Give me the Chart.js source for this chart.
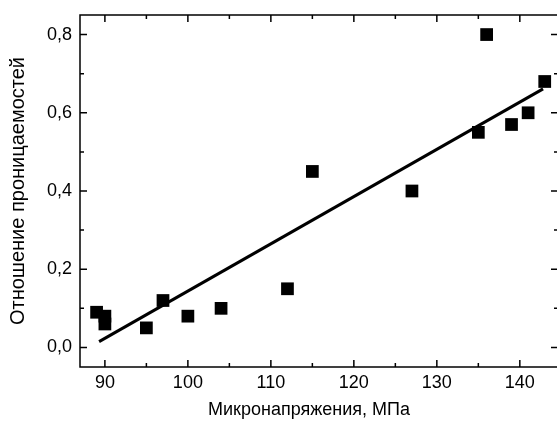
<!DOCTYPE html>
<html>
<head>
<meta charset="utf-8">
<script src="https://cdn.jsdelivr.net/npm/chart.js@4/dist/chart.umd.min.js"></script>
<style>
	body { margin: 0; overflow: hidden; background: #fff; }
	#wrap { position: absolute; left: 0; top: 0; width: 560px; height: 421px; }
</style>
</head>
<body>
<div id="wrap"><canvas id="myChart" width="560" height="421"></canvas></div>
<script>
// measured points
var stressX = [89, 90, 90, 95, 97, 100, 104, 112, 115, 127, 135, 136, 139, 141, 143];
var ratioY = [0.09, 0.08, 0.06, 0.05, 0.12, 0.08, 0.10, 0.15, 0.45, 0.40, 0.55, 0.80, 0.57, 0.60, 0.68];

// fitted line, end points
var fitX = [89.3, 142.8];
var fitY = [0.015, 0.661];

// axis ticks
var xMajorTicks = [90, 100, 110, 120, 130, 140];
var xMinorTicks = [95, 105, 115, 125, 135];
var yMajorTicks = [0, 0.2, 0.4, 0.6, 0.8];
var yMinorTicks = [0.1, 0.3, 0.5, 0.7];

// trailing spaces nudge the centred title a little to the left, like the original
var xTitle = 'Микронапряжения, МПа\u00a0\u00a0\u00a0\u00a0';
var yTitle = 'Отношение проницаемостей';

function toPoints(xs, ys) {
	return xs.map(function(v, i) { return { x: v, y: ys[i] }; });
}

// box around the plot with inward ticks on all four sides
var frameTicks = {
	id: 'frameTicks',
	afterDraw: function(chart) {
		var ctx = chart.ctx;
		var a = chart.chartArea;
		var xs = chart.scales.x;
		var ys = chart.scales.y;
		ctx.save();
		ctx.strokeStyle = '#000';
		ctx.lineWidth = 1.5;
		ctx.strokeRect(a.left, a.top, a.right - a.left, a.bottom - a.top);
		ctx.beginPath();
		function xMarks(vals, len) {
			vals.forEach(function(v) {
				var px = xs.getPixelForValue(v);
				ctx.moveTo(px, a.bottom); ctx.lineTo(px, a.bottom - len);
				ctx.moveTo(px, a.top); ctx.lineTo(px, a.top + len);
			});
		}
		function yMarks(vals, len) {
			vals.forEach(function(v) {
				var py = ys.getPixelForValue(v);
				ctx.moveTo(a.left, py); ctx.lineTo(a.left + len, py);
				ctx.moveTo(a.right, py); ctx.lineTo(a.right - len, py);
			});
		}
		xMarks(xMajorTicks, 7);
		xMarks(xMinorTicks, 4);
		yMarks(yMajorTicks, 7);
		yMarks(yMinorTicks, 4);
		ctx.stroke();
		ctx.restore();
	}
};

var font = { family: '"Liberation Sans", Arial, sans-serif', size: 18 };
var yTitleFont = { family: '"Liberation Sans", Arial, sans-serif', size: 20 };

var ctx = document.getElementById('myChart');
var myChart = new Chart(ctx, {
	type: 'scatter',
	data: {
		datasets: [
			{
				type: 'line',
				data: toPoints(fitX, fitY),
				borderColor: '#000',
				borderWidth: 3,
				pointRadius: 0,
				fill: false
			},
			{
				data: toPoints(stressX, ratioY),
				pointStyle: 'rect',
				pointRadius: 9,
				pointHoverRadius: 9,
				backgroundColor: '#000',
				borderWidth: 0
			}
		]
	},
	options: {
		responsive: false,
		animation: false,
		layout: { autoPadding: false, padding: { top: 15, right: 2, left: 0, bottom: 0 } },
		plugins: {
			legend: { display: false },
			tooltip: { enabled: false }
		},
		scales: {
			x: {
				type: 'linear',
				min: 87,
				max: 144.6,
				grid: { display: false, drawTicks: false },
				border: { display: false },
				afterBuildTicks: function(scale) {
					scale.ticks = xMajorTicks.map(function(v) { return { value: v }; });
				},
				afterFit: function(scale) {
					scale.height = 54;
					scale.paddingLeft = 0;
					scale.paddingRight = 0;
				},
				ticks: { color: '#000', font: font, padding: 5, maxRotation: 0 },
				title: { display: true, text: xTitle, color: '#000', font: font, padding: { top: 0, bottom: 0 } }
			},
			y: {
				type: 'linear',
				min: -0.05,
				max: 0.85,
				grid: { display: false, drawTicks: false },
				border: { display: false },
				afterBuildTicks: function(scale) {
					scale.ticks = yMajorTicks.map(function(v) { return { value: v }; });
				},
				afterFit: function(scale) {
					scale.width = 80;
					scale.paddingTop = 0;
					scale.paddingBottom = 0;
				},
				ticks: {
					color: '#000',
					font: font,
					padding: 8,
					callback: function(value) { return value.toFixed(1).replace('.', ','); }
				},
				title: { display: true, text: yTitle, color: '#000', font: yTitleFont, padding: { top: 6, bottom: 0 } }
			}
		}
	},
	plugins: [frameTicks]
});
</script>
</body>
</html>
